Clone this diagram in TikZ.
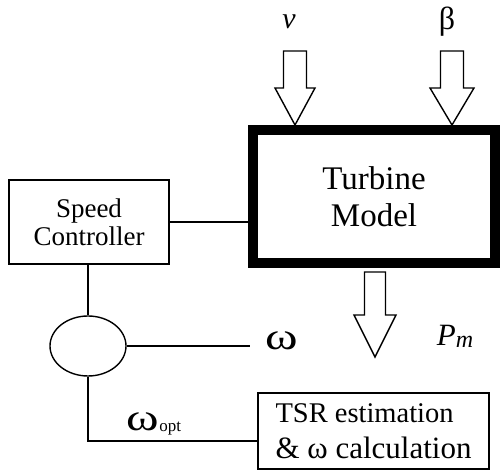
\documentclass[tikz,border=0pt]{standalone}
\usepackage{graphicx}
\usepackage{fontspec}
\setmainfont{Liberation Serif}
\usetikzlibrary{shapes.geometric}
\newcommand\fs[2]{\fontsize{#1}{#2}\selectfont}
\newcommand\wideomega{\scalebox{1.3}[1]{ω}}
\tikzset{
  thin line/.style={line width=1.4pt},
  blockbox/.style={draw, thin line, rectangle, inner sep=0pt},
  blk/.style={draw, line width=1.4pt, fill=white, line join=miter},
  lbl/.style={inner sep=0pt}
}
\begin{document}
\begin{tikzpicture}[x=1pt,y=-1pt]
\useasboundingbox (0,0) rectangle (501,470);
% blocks
\node[draw, line width=10pt, rectangle, minimum width=242pt, minimum height=133pt, inner sep=0pt,
      align=center, font=\fs{33}{37}] (turb) at (374,196.5) {Turbine\\Model};
\node[blockbox, minimum width=160pt, minimum height=84pt, align=center, font=\fs{27}{28}]
      (sc) at (89,222) {Speed\\Controller};
\node[draw, thin line, ellipse, minimum width=76pt, minimum height=60pt, inner sep=0pt] (sum) at (88,346) {};
\node[blockbox, minimum width=231pt, minimum height=76pt, align=left, font=\fs{28.5}{36}]
      (tsr) at (373.5,431) {TSR estimation\\\fs{31}{36}\& ω calculation};
% labels
\node[lbl, font=\fs{30}{30}\itshape] (nu) at (289,22) {ν};
\node[lbl, font=\fs{32}{32}] (beta) at (447,22) {β};
\node[lbl, font=\fs{38}{40}] (om) at (282,341) {\wideomega};
\node[lbl, font=\fs{31}{31}] (pm) at (455,336) {\textit{P}\raisebox{-2pt}{\fs{24}{24}\textit{m}}};
\node[lbl] (omopt) at (154,424) {\fs{38}{40}\wideomega\raisebox{-1pt}{\fs{17}{17}opt}};
% coordinates
\coordinate (nutip) at (295,125);
\coordinate (betatip) at (452,125);
\coordinate (pmtip) at (375,357);
\coordinate (wend) at (250,344);
\coordinate (corner) at (88,441);
% connectors
\draw[thin line] (sc.east) -- (sc.east -| turb.west);
\draw[thin line] (sc.south -| sum.north) -- (sum.north);
\draw[thin line] (sum.east) -- (sum.east -| wend);
\draw[thin line] (sum.south) -- (corner) -- (corner -| tsr.west);
% block arrows
\draw[blk] (nutip) -- ++(-20,-37) -- ++(8.5,0) -- ++(0,-37) -- ++(23,0) -- ++(0,37) -- ++(8.5,0) -- cycle;
\draw[blk] (betatip) -- ++(-22,-37) -- ++(10.5,0) -- ++(0,-37) -- ++(23,0) -- ++(0,37) -- ++(10.5,0) -- cycle;
\draw[blk] (pmtip) -- ++(-21,-42) -- ++(10.5,0) -- ++(0,-43) -- ++(21,0) -- ++(0,43) -- ++(10.5,0) -- cycle;
\end{tikzpicture}
\end{document}
